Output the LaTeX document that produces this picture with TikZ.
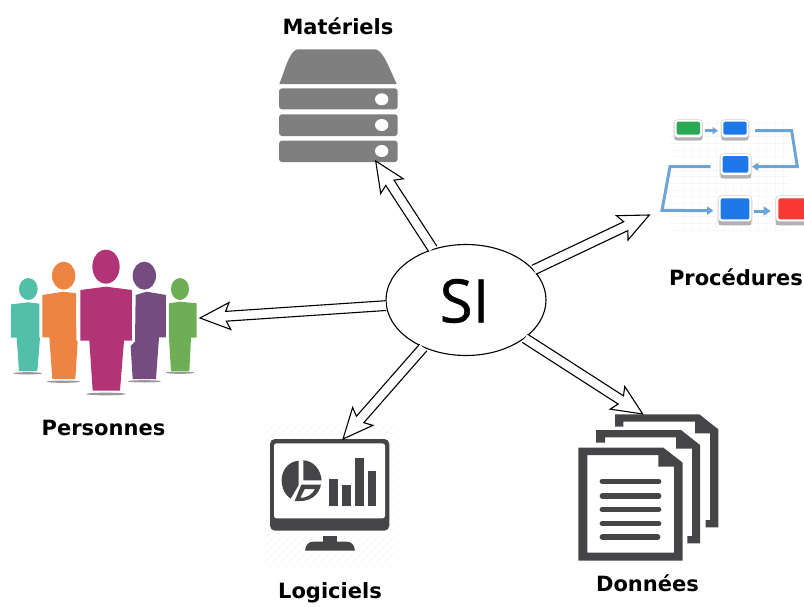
\documentclass[tikz,border=0pt]{standalone}
\usepackage{fontspec}
\setmainfont{DejaVu Sans}
\newfontfamily\sifont[FakeBold=0.8]{Open Sans}
\usetikzlibrary{calc,shapes.geometric}
\definecolor{srv}{HTML}{7F7F7F}
\definecolor{dk}{HTML}{454547}
\definecolor{flow}{HTML}{6BA5D8}
\definecolor{bluebox}{HTML}{1F78E8}
\tikzset{
  lbl/.style={font=\bfseries\fontsize{21}{25}\selectfont,text=black,inner sep=0pt},
  block/.style={draw=black,line width=1.1pt,fill=white,line join=miter},
  slab/.style={fill=srv,rounded corners=3pt},
  flowline/.style={draw=flow,line width=3pt},
  flowtip/.style={fill=flow},
  bevel/.style={fill=white,draw=black!18,line width=1.2pt,rounded corners=3.5pt},
  fbox/.style={rounded corners=2pt}
}
\newcommand{\blockarrow}[2]{%
  \coordinate (bn) at ($(#2)!26pt!(#1)$);
  \coordinate (bb) at ($(#2)!30pt!(#1)$);
  \draw[block] ($(#1)!4.9pt!90:(#2)$) -- ($(bn)!4.9pt!-90:(#1)$) -- ($(bb)!13.5pt!-90:(#1)$) -- (#2)
    -- ($(bb)!13.5pt!90:(#1)$) -- ($(bn)!4.9pt!90:(#1)$) -- ($(#1)!4.9pt!-90:(#2)$);
}
\begin{document}
\begin{tikzpicture}[x=1pt,y=-1pt]
\useasboundingbox (0,0) rectangle (804,606);
% server
\fill[srv] (279.3,84) .. controls (285,70) and (289,52) .. (297,49.3) -- (376,49.3) .. controls (384,52) and (390,70) .. (396.7,84) -- cycle;
\fill[slab] (279,88.3) rectangle (397.7,109.3);
\fill[slab] (279,114.3) rectangle (397.7,136);
\fill[slab] (279,140.7) rectangle (397.7,162);
\fill[white] (381.7,99.3) ellipse [x radius=6.7,y radius=6];
\fill[white] (381.7,125) ellipse [x radius=6.7,y radius=6];
\fill[white] (381.7,151) ellipse [x radius=6.7,y radius=6];
% procedures
\begin{scope}[shift={(650,100)},x=0.33333pt,y=-0.33333pt]
  \clip (0,0) rectangle (462,420);
  \foreach \yy in {70,90,...,390} \draw[black!3,line width=0.4pt] (60,\yy) -- (420,\yy);
  \foreach \xx in {100,125,...,400} \draw[black!3,line width=0.4pt] (\xx,60) -- (\xx,400);
  % connectors
  \draw[flowline] (165,92) -- (190,92);
  \fill[flowtip] (204,92) -- (188,81) -- (188,103) -- cycle;
  \draw[flowline] (315,92) -- (425,92) -- (442,200) -- (320,200);
  \fill[flowtip] (306,200) -- (324,188) -- (324,212) -- cycle;
  \draw[flowline] (182,200) -- (60,200) -- (36,331) -- (175,332);
  \fill[flowtip] (190,332) -- (171,319) -- (171,345) -- cycle;
  \draw[flowline] (312,333) -- (345,333);
  \fill[flowtip] (362,333) -- (341,319) -- (341,347) -- cycle;
  % boxes
  \draw[bevel] (73,60) rectangle (157,121);
  \fill[black!30] (74,108) rectangle (156,121);
  \fill[white,rounded corners=3pt] (74,60) rectangle (156,112);
  \fill[fbox,fill={rgb,255:red,43;green,168;blue,84}] (80,65) rectangle (150,104);
  \draw[bevel] (214,60) rectangle (296,121);
  \fill[black!30] (215,108) rectangle (295,121);
  \fill[white,rounded corners=3pt] (215,60) rectangle (295,112);
  \fill[fbox,bluebox] (220,65) rectangle (290,104);
  \draw[bevel] (211,162) rectangle (303,235);
  \fill[black!30] (212,222) rectangle (302,235);
  \fill[white,rounded corners=3pt] (212,162) rectangle (302,225);
  \fill[fbox,bluebox] (218,168) rectangle (295,218);
  \draw[bevel] (205,288) rectangle (305,375);
  \fill[black!30] (206,360) rectangle (304,375);
  \fill[white,rounded corners=3pt] (206,288) rectangle (304,364);
  \fill[fbox,bluebox] (212,295) rectangle (298,358);
  \draw[bevel] (378,288) rectangle (480,375);
  \fill[black!30] (379,360) rectangle (480,375);
  \fill[white,rounded corners=3pt] (379,288) rectangle (480,364);
  \fill[fbox,fill={rgb,255:red,250;green,56;blue,52}] (385,295) rectangle (480,358);
\end{scope}
% people
\begin{scope}[shift={(0,240)},x=0.33333pt,y=-0.33333pt]
  \fill[black!40] (83,400) ellipse [x radius=43,y radius=3.5];
  \fill[black!40] (190,425) ellipse [x radius=50,y radius=3.5];
  \fill[black!40] (318,462) ellipse [x radius=60,y radius=4];
  \fill[black!40] (433,424) ellipse [x radius=50,y radius=3.5];
  \fill[black!40] (540,398) ellipse [x radius=43,y radius=3.5];
  \definecolor{pa}{HTML}{52BFA8}\definecolor{pb}{HTML}{EE8443}\definecolor{pc}{HTML}{B03476}\definecolor{pd}{HTML}{744C80}\definecolor{pe}{HTML}{6EAF56}
  \fill[pa] (85,147) ellipse [x radius=28,y radius=33];
  \fill[pa] (33,193) -- (85,187) -- (118,191) -- (118,293) -- (120,293) -- (112,393) -- (57,393) -- (50,293) -- (33,293) -- cycle;
  \fill[pb] (191,107) ellipse [x radius=35,y radius=42];
  \fill[pb] (127,165) -- (190,155) -- (228,160) -- (229,300) -- (233,305) -- (226,417) -- (157,417) -- (148,292) -- (127,292) -- cycle;
  \fill[pd] (433,107) ellipse [x radius=35,y radius=42];
  \fill[pd] (407,165) -- (440,155) -- (498,165) -- (498,292) -- (477,292) -- (468,417) -- (398,417) -- (392,318) -- (405,305) -- cycle;
  \fill[pe] (540,147) ellipse [x radius=27,y radius=33];
  \fill[pe] (507,190) -- (540,185) -- (590,190) -- (590,293) -- (573,293) -- (568,393) -- (513,393) -- (507,293) -- cycle;
  \fill[pc] (318,80) ellipse [x radius=41,y radius=51];
  \fill[pc] (241,150) -- (318,140) -- (396,150) -- (396,302) -- (372,302) -- (360,452) -- (278,452) -- (268,302) -- (241,302) -- cycle;
\end{scope}
% monitor
\begin{scope}[shift={(255,420)},x=0.33333pt,y=-0.33333pt]
  \begin{scope}
    \clip (20,10) rectangle (430,440);
    \foreach \dd in {0,24,...,860} \draw[black!4,line width=0.5pt] (\dd,0) -- (\dd-450,450);
  \end{scope}
  \fill[dk,rounded corners=5pt] (45,57) rectangle (403,332);
  \fill[white,rounded corners=2.5pt] (57,70) rectangle (390,295);
  \fill[dk] (203,347) rectangle (247,366);
  \fill[dk] (150,392) .. controls (152,375) and (160,365) .. (175,365) -- (275,365) .. controls (290,365) and (298,375) .. (300,392) -- cycle;
  \fill[dk] (131,122) .. controls (100,125) and (80,150) .. (80,180) .. controls (80,205) and (90,225) .. (107,236) -- (131,195) -- cycle;
  \fill[dk] (145,121) .. controls (175,122) and (197,148) .. (200,181) -- (145,181) -- cycle;
  \fill[dk,even odd rule] (139,194) -- (198,194) .. controls (192,225) and (165,248) .. (119,243) -- cycle
    (149,207) -- (180,207) .. controls (172,222) and (158,234) .. (136,233) -- cycle;
  \fill[dk] (222,178) rectangle (248,258);
  \fill[dk] (261,196) rectangle (288,258);
  \fill[dk] (300,113) rectangle (326,258);
  \fill[dk] (338,153) rectangle (364,258);
\end{scope}
% documents
\begin{scope}[shift={(570,400)},x=0.33333pt,y=-0.33333pt]
  \fill[dk] (135,80) -- (135,43) -- (388,43) -- (445,88) -- (445,382) -- (407,382) -- (407,360) -- (420,360) -- (420,100) -- (375,100) -- (375,65) -- (160,65) -- (160,80) -- cycle;
  \fill[dk] (78,128) -- (78,90) -- (333,90) -- (390,135) -- (390,430) -- (352,430) -- (352,408) -- (366,408) -- (366,146) -- (318,146) -- (318,112) -- (105,112) -- (105,128) -- cycle;
  \fill[dk,even odd rule] (25,143) -- (280,143) -- (338,188) -- (338,482) -- (25,482) -- cycle
    (52,165) -- (265,165) -- (265,200) -- (312,200) -- (312,458) -- (52,458) -- cycle;
  \foreach \yy/\xe in {244/266,288/266,328/266,371/266,411/263}
    \draw[dk,line width=5.5pt,line cap=round] (97,\yy) -- (\xe,\yy);
\end{scope}
% centre
\node[draw=black,line width=1.1pt,ellipse,fill=white,minimum width=160pt,minimum height=111pt,inner sep=0pt] (si) at (466,300) {};
\node[font=\sifont\fontsize{60}{60}\selectfont,inner sep=0pt] (sit) at (464.5,301) {SI};
% arrow ends
\coordinate (tm) at (375.7,161);
\coordinate (tp) at (649.3,215);
\coordinate (tg) at (200,318);
\coordinate (tl) at (343,439);
\coordinate (td) at (642.7,414);
\blockarrow{si.123}{tm}
\blockarrow{si.24.5}{tp}
\blockarrow{si.184.3}{tg}
\blockarrow{si.228.8}{tl}
\blockarrow{si.-33}{td}
% labels
\node[lbl] (lm) at (338,26) {Matériels};
\node[lbl] (lp) at (736,277) {Procédures};
\node[lbl] (lg) at (103.5,428) {Personnes};
\node[lbl] (ll) at (330,593) {Logiciels};
\node[lbl] (ld) at (647.5,583) {Données};
\end{tikzpicture}
\end{document}
